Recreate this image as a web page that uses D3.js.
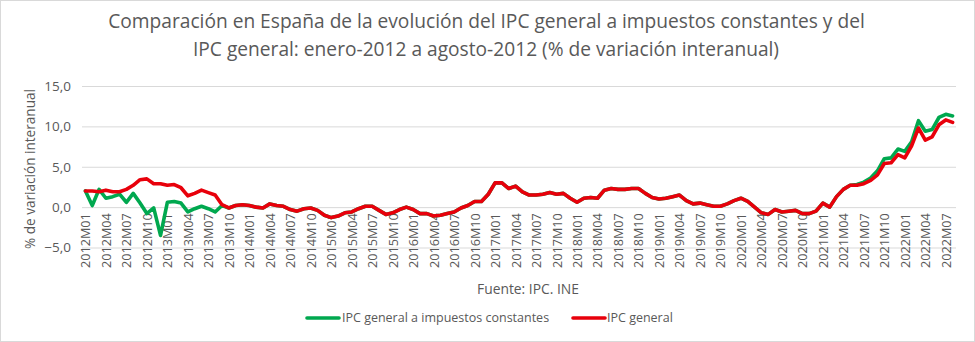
<!DOCTYPE html>
<html>
<head>
<meta charset="utf-8">
<script src="https://cdn.jsdelivr.net/npm/d3@7"></script>
<style>
  html, body { margin: 0; padding: 0; background: #fff; }
  text { font-family: "Open Sans", "Noto Sans", sans-serif; fill: #595959; }
</style>
</head>
<body>
<svg id="chart" width="975" height="342"></svg>
<script>
// ---------------- DATA ----------------
const years = [2012, 2013, 2014, 2015, 2016, 2017, 2018, 2019, 2020, 2021, 2022];
const lastMonth2022 = 8;

// IPC general (% variación interanual), 2012M01 .. 2022M08
const ipcGeneral = [
  2.0, 2.0, 1.9, 2.1, 1.9, 1.9, 2.2, 2.7, 3.4, 3.5, 2.9, 2.9,      // 2012
  2.7, 2.8, 2.4, 1.4, 1.7, 2.1, 1.8, 1.5, 0.3, -0.1, 0.2, 0.3,     // 2013
  0.2, 0.0, -0.1, 0.4, 0.2, 0.1, -0.3, -0.5, -0.2, -0.1, -0.4, -1.0, // 2014
  -1.3, -1.1, -0.7, -0.6, -0.2, 0.1, 0.1, -0.4, -0.9, -0.7, -0.3, 0.0, // 2015
  -0.3, -0.8, -0.8, -1.1, -1.0, -0.8, -0.6, -0.1, 0.2, 0.7, 0.7, 1.6, // 2016
  3.0, 3.0, 2.3, 2.6, 1.9, 1.5, 1.5, 1.6, 1.8, 1.6, 1.7, 1.1,      // 2017
  0.6, 1.1, 1.2, 1.1, 2.1, 2.3, 2.2, 2.2, 2.3, 2.3, 1.7, 1.2,      // 2018
  1.0, 1.1, 1.3, 1.5, 0.8, 0.4, 0.5, 0.3, 0.1, 0.1, 0.4, 0.8,      // 2019
  1.1, 0.7, 0.0, -0.7, -0.9, -0.3, -0.6, -0.5, -0.4, -0.8, -0.8, -0.5, // 2020
  0.5, 0.0, 1.3, 2.2, 2.7, 2.7, 2.9, 3.3, 4.0, 5.4, 5.5, 6.5,      // 2021
  6.1, 7.6, 9.8, 8.3, 8.7, 10.2, 10.8, 10.5                        // 2022
];

// IPC general a impuestos constantes (% variación interanual), 2012M01 .. 2022M08
const ipcImpuestosConstantes = [
  2.0, 0.2, 2.2, 1.1, 1.3, 1.6, 0.6, 1.7, 0.5, -0.8, -0.1, -3.5,   // 2012
  0.6, 0.7, 0.5, -0.6, -0.2, 0.1, -0.2, -0.6, 0.2, -0.1, 0.2, 0.3, // 2013
  0.2, 0.0, -0.1, 0.4, 0.2, 0.1, -0.3, -0.5, -0.2, -0.1, -0.4, -1.0, // 2014
  -1.3, -1.1, -0.7, -0.6, -0.2, 0.1, 0.1, -0.4, -0.9, -0.7, -0.3, 0.0, // 2015
  -0.3, -0.8, -0.8, -1.1, -1.0, -0.8, -0.6, -0.1, 0.2, 0.7, 0.7, 1.6, // 2016
  3.0, 3.0, 2.3, 2.6, 1.9, 1.5, 1.5, 1.6, 1.8, 1.6, 1.7, 1.1,      // 2017
  0.6, 1.1, 1.2, 1.1, 2.1, 2.3, 2.2, 2.2, 2.3, 2.3, 1.7, 1.2,      // 2018
  1.0, 1.1, 1.3, 1.5, 0.8, 0.4, 0.5, 0.3, 0.1, 0.1, 0.4, 0.8,      // 2019
  1.1, 0.7, 0.0, -0.7, -0.9, -0.3, -0.6, -0.5, -0.4, -0.8, -0.8, -0.5, // 2020
  0.5, 0.0, 1.3, 2.2, 2.7, 2.8, 3.1, 3.6, 4.5, 6.0, 6.1, 7.2,      // 2021
  6.9, 8.1, 10.7, 9.4, 9.6, 11.1, 11.5, 11.3                       // 2022
];

const yTicks = [-5, 0, 5, 10, 15];
const seriesNames = ["IPC general a impuestos constantes", "IPC general"];
const titleLines = [
  "Comparación en España de la evolución del IPC general a impuestos constantes y del",
  "IPC general: enero-2012 a agosto-2012 (% de variación interanual)"
];
const yAxisTitle = "% de variación interanual";
const sourceText = "Fuente: IPC. INE";

// month category labels 2012M01 .. 2022M08
const months = [];
years.forEach(y => {
  const n = (y === 2022) ? lastMonth2022 : 12;
  for (let m = 1; m <= n; m++) months.push(y + "M" + String(m).padStart(2, "0"));
});
const xTickLabels = months.filter((d, i) => i % 3 === 0);

// ---------------- DRAW ----------------
const svg = d3.select("#chart");
const W = 975, H = 342;
const colors = ["#00a84f", "#e8000b"];

svg.append("rect").attr("x", 0.5).attr("y", 0.5).attr("width", W - 1).attr("height", H - 1)
  .attr("fill", "#fff").attr("stroke", "#d9d9d9");

const plot = { left: 82, right: 956, top: 86, bottom: 247.5 };
const x = d3.scalePoint().domain(months).range([plot.left, plot.right]).padding(0.5);
const y = d3.scaleLinear().domain([-5, 15]).range([plot.bottom, plot.top]);

const locale = d3.formatLocale({ decimal: ",", thousands: ".", grouping: [3], currency: ["", " €"] });
const fmt = locale.format(".1f");

function fitWidth(sel, target) {
  const fs = parseFloat(sel.style("font-size"));
  const w = sel.node().getComputedTextLength();
  sel.style("font-size", (fs * target / w).toFixed(2) + "px");
}

// gridlines
svg.append("g")
  .attr("transform", `translate(${plot.left},0)`)
  .call(d3.axisLeft(y).tickValues(yTicks).tickSize(-(plot.right - plot.left)).tickFormat(""))
  .call(g => g.select(".domain").remove())
  .call(g => g.selectAll("line").attr("stroke", "#d9d9d9").attr("stroke-width", 1));

// y axis labels
svg.append("g")
  .attr("transform", `translate(${plot.left},0)`)
  .call(d3.axisLeft(y).tickValues(yTicks).tickSize(0).tickPadding(11).tickFormat(fmt))
  .call(g => g.select(".domain").remove())
  .call(g => g.selectAll("text").style("font-size", "13.5px").attr("fill", "#595959")
    .style("font-family", "'Open Sans', sans-serif"));

// x axis labels (at y = 0)
const xg = svg.append("g")
  .attr("transform", `translate(0,${y(0)})`)
  .call(d3.axisBottom(x).tickValues(xTickLabels).tickSize(0))
  .call(g => g.select(".domain").remove())
  .call(g => g.selectAll("text")
    .style("font-size", "12px").attr("fill", "#595959")
    .style("font-family", "'Open Sans', sans-serif")
    .attr("text-anchor", "end")
    .attr("transform", "rotate(-90)")
    .attr("x", -6).attr("y", 0).attr("dy", "0.35em"));
{
  const first = xg.select("text");
  const w = first.node().getComputedTextLength();
  const fs = (12 * 55 / w).toFixed(2) + "px";
  xg.selectAll("text").style("font-size", fs);
}

// lines
const series = [ipcImpuestosConstantes, ipcGeneral];
const line = d3.line().x((d, i) => x(months[i])).y(d => y(d));
series.forEach((s, k) => {
  svg.append("path").datum(s)
    .attr("fill", "none").attr("stroke", colors[k])
    .attr("stroke-width", 3.6).attr("stroke-linejoin", "round").attr("stroke-linecap", "round")
    .attr("d", line);
});

// title
const t1 = svg.append("text").attr("x", 486.5).attr("y", 28).attr("text-anchor", "middle")
  .style("font-size", "18px").text(titleLines[0]);
fitWidth(t1, 757);
const t2 = svg.append("text").attr("x", 486).attr("y", 56).attr("text-anchor", "middle")
  .style("font-size", t1.style("font-size")).text(titleLines[1]);

// y axis title
const yt = svg.append("text").attr("transform", "translate(35,169) rotate(-90)")
  .attr("text-anchor", "middle").style("font-size", "13.5px").text(yAxisTitle);
fitWidth(yt, 160);

// source
const st = svg.append("text").attr("x", 528).attr("y", 294).attr("text-anchor", "middle")
  .style("font-size", "14px").text(sourceText);
fitWidth(st, 102);

// legend
const legendItems = [
  { x1: 307, x2: 339, tx: 342, name: seriesNames[0], color: colors[0] },
  { x1: 573, x2: 605, tx: 607, name: seriesNames[1], color: colors[1] }
];
legendItems.forEach(it => {
  svg.append("line").attr("x1", it.x1).attr("x2", it.x2).attr("y1", 318).attr("y2", 318)
    .attr("stroke", it.color).attr("stroke-width", 3.6).attr("stroke-linecap", "round");
  const lt = svg.append("text").attr("x", it.tx).attr("y", 318).attr("dy", "0.35em")
    .style("font-size", "12.5px").text(it.name);
});
</script>
</body>
</html>
